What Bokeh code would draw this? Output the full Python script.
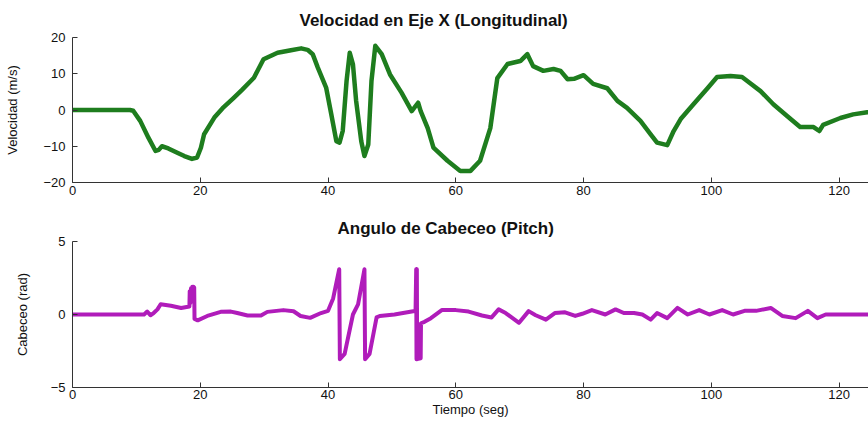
from bokeh.plotting import figure
from bokeh.layouts import column
from bokeh.models import FixedTicker, Range1d
from bokeh.embed import file_html
from bokeh.resources import INLINE

# ---- data ----
t_vel = [0, 5, 9, 9.5, 10.6, 11.9, 13.0, 13.5, 14.0, 15, 16.4, 17.5, 18.7, 19.5, 20.1, 20.6,
         22.2, 23.5, 25.2, 26.5, 27.9, 28.4, 29.9, 32.1, 34.2, 35.8, 36.8, 37.6, 38.4, 39.7,
         40.5, 41.3, 41.8, 42.3, 42.9, 43.4, 43.9, 44.4, 45.2, 45.7, 46.3, 46.8, 47.4, 48.4,
         49.7, 51.5, 53.1, 54.1, 54.5, 55.6, 56.5, 58.7, 60.7, 62.3, 63.8, 65.4, 66.5, 68.1,
         70.1, 71.2, 72.1, 73.7, 75.3, 76.4, 77.5, 78.5, 80, 81.5, 83.7, 85.3, 86.8, 88.9,
         90.5, 91.5, 93.1, 94.1, 95.2, 97.2, 99.4, 100.9, 103, 104.8, 107.7, 109.7, 111.9,
         113.9, 116, 116.9, 117.5, 120.2, 122.2, 124.4, 125.5]
vel = [0, 0, 0, -0.2, -3, -7.7, -11.3, -11, -10, -10.6, -11.8, -12.7, -13.5, -13.1, -10.4, -6.7,
       -2.1, 0.5, 3.3, 5.5, 8, 8.9, 14, 15.8, 16.5, 17, 16.6, 15.4, 11.7, 6.2,
       -1.1, -8.6, -9, -5.8, 8, 15.8, 12.6, 2.5, -8.6, -12.7, -9.5, 8, 17.7, 15.4,
       9.8, 4.8, -0.3, 2, -0.3, -5, -10.4, -14, -16.8, -16.8, -14, -5, 8.8, 12.7,
       13.5, 15.4, 12.1, 10.8, 11.3, 10.8, 8.5, 8.6, 9.6, 7.2, 6, 2.5, 0.6, -3,
       -6.7, -9, -9.7, -5.8, -2.5, 1.6, 6, 9.1, 9.4, 9.1, 5.2, 1.6, -1.7,
       -4.7, -4.7, -5.8, -4.1, -2.2, -1.2, -0.6, -0.5]

t_pitch = [0, 11.2, 11.7, 12.2, 12.7, 13.3, 13.8, 15.4, 17, 18.3, 18.35, 18.45, 18.55, 18.65,
           18.75, 18.85, 18.95, 19.05, 19.1, 19.6, 21.1, 23.2, 24.8, 25.8, 27.4, 29.5, 30.5,
           33, 34.6, 35.7, 37.2, 38.9, 40, 40.8, 41.75, 41.85, 42.6, 43.9, 44.7, 45.7, 45.8,
           46.5, 47.6, 48.1, 50.4, 53.1, 53.7, 53.8, 53.85, 53.9, 53.95, 54.5, 54.55, 55.1,
           56.1, 57.8, 60, 62, 64.1, 65.6, 66.7, 67.8, 69.9, 71.4, 72.5, 74.1, 75.5, 77.1,
           78.7, 79.8, 81.3, 83.4, 85, 86.3, 87.9, 89.2, 90.5, 91.5, 93.1, 94.7, 96.3, 98.1,
           99.7, 101.7, 103.4, 105.2, 107, 109.3, 111.1, 113.2, 115.1, 116.6, 117.9, 125.5]
pitch = [0, 0, 0.2, -0.05, 0.1, 0.35, 0.7, 0.6, 0.45, 0.55, 1.6, 0.8, 1.8, 0.9,
         1.9, 1.0, 1.9, 1.85, -0.3, -0.4, -0.1, 0.18, 0.2, 0.1, -0.07, -0.07, 0.18,
         0.3, 0.22, -0.1, -0.23, 0.1, 0.25, 1.1, 3.1, -3.06, -2.7, 0, 0.7, 3.1, -3.06,
         -2.7, -0.2, -0.1, 0, 0.2, 0.25, 3.1, -3.06, 3.1, -3.06, -3.0, -0.6, -0.5,
         -0.25, 0.3, 0.3, 0.2, -0.07, -0.2, 0.35, 0.1, -0.57, 0.23, -0.05, -0.35, 0.1, 0.15,
         -0.1, 0.05, 0.3, 0, 0.35, 0.1, 0.1, 0, -0.35, 0.1, -0.25, 0.45, 0, 0.3,
         0, 0.3, 0, 0.25, 0.25, 0.45, -0.1, -0.25, 0.25, -0.25, 0, 0]

x_ticks = [0, 20, 40, 60, 80, 100, 120]
vel_ticks = [-20, -10, 0, 10, 20]
pitch_ticks = [-5, 0, 5]

FONT = "Liberation Sans"
AXC = "#333333"
TXT = "#111111"


def style(p, yticks):
    p.xgrid.visible = False
    p.ygrid.visible = False
    p.outline_line_color = None
    p.background_fill_color = "white"
    p.border_fill_color = "white"
    p.xaxis.ticker = FixedTicker(ticks=x_ticks)
    p.yaxis.ticker = FixedTicker(ticks=yticks)
    for ax in (p.xaxis[0], p.yaxis[0]):
        ax.axis_line_color = AXC
        ax.axis_line_width = 1
        ax.major_tick_line_color = AXC
        ax.major_tick_in = 5
        ax.major_tick_out = 0
        ax.minor_tick_line_color = None
        ax.major_label_text_font = FONT
        ax.major_label_text_font_size = "13px"
        ax.major_label_text_color = TXT
        ax.axis_label_text_font = FONT
        ax.axis_label_text_font_size = "13px"
        ax.axis_label_text_font_style = "normal"
        ax.axis_label_text_color = TXT
    p.yaxis.major_label_standoff = 7
    p.title.text_font = FONT
    p.title.text_font_size = "17px"
    p.title.text_font_style = "bold"
    p.title.text_color = TXT
    p.title.align = "left"


p1 = figure(width=868, height=205, output_backend="svg", toolbar_location=None,
            x_range=Range1d(0, 124.6), y_range=Range1d(-20, 20),
            title="Velocidad en Eje X (Longitudinal)",
            min_border_left=72, min_border_right=0, min_border_top=37, min_border_bottom=23)
style(p1, vel_ticks)
p1.title.offset = 227
p1.title.standoff = 16
p1.xaxis.major_label_standoff = 3
p1.yaxis.axis_label = "Velocidad (m/s)"
p1.yaxis.axis_label_standoff = 20
p1.line(t_vel, vel, line_color="#1e7d1e", line_width=4.5, line_join="round")

p2 = figure(width=868, height=218, output_backend="svg", toolbar_location=None,
            x_range=Range1d(0, 124.6), y_range=Range1d(-5, 5),
            title="Angulo de Cabeceo (Pitch)",
            min_border_left=72, min_border_right=0, min_border_top=36, min_border_bottom=36)
style(p2, pitch_ticks)
p2.title.offset = 265
p2.title.standoff = 8
p2.xaxis.major_label_standoff = 2
p2.xaxis.axis_label = "Tiempo (seg)"
p2.xaxis.axis_label_standoff = 0
p2.yaxis.axis_label = "Cabeceo (rad)"
p2.yaxis.axis_label_standoff = 18
p2.line(t_pitch, pitch, line_color="#b01cba", line_width=4, line_join="round")

layout = column(p1, p2, spacing=0)
open("out.html", "w").write(file_html(layout, INLINE))
